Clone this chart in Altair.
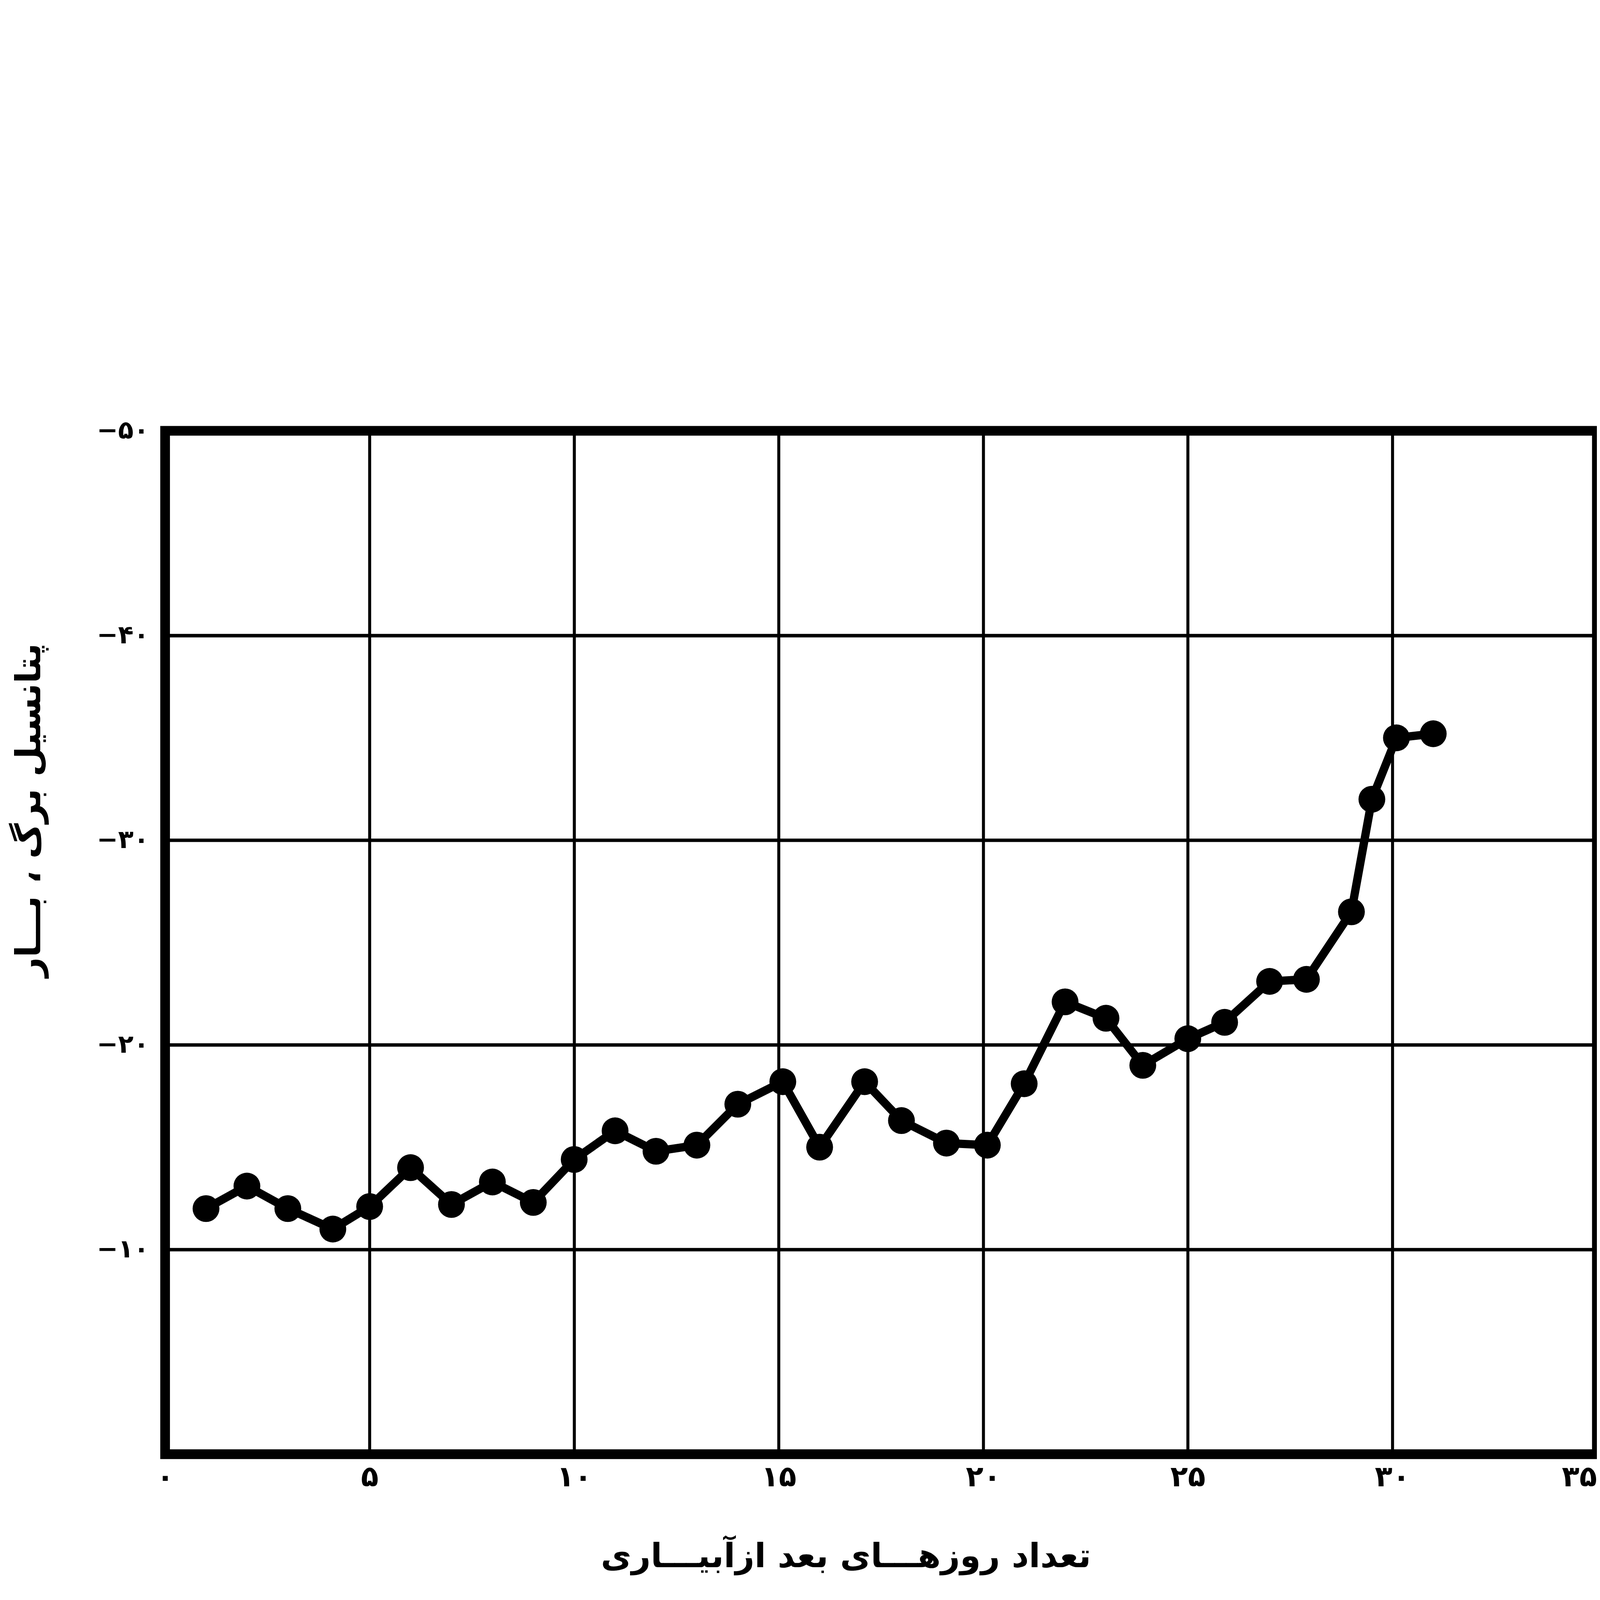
import altair as alt
import pandas as pd

# days after irrigation
days = [1, 2, 3, 4.1, 5, 6, 7, 8, 9, 10, 11, 12, 13, 14, 15.1, 16, 17.1, 18,
        19.1, 20.1, 21, 22, 23, 23.9, 25, 25.9, 27, 27.9, 29, 29.5, 30.1, 31]
# leaf water potential, bar
potential = [-12.0, -13.1, -12.0, -11.0, -12.1, -14.0, -12.2, -13.3, -12.3,
             -14.4, -15.8, -14.8, -15.1, -17.1, -18.2, -15.0, -18.2, -16.3,
             -15.2, -15.1, -18.1, -22.1, -21.3, -19.0, -20.3, -21.1, -23.1,
             -23.2, -26.5, -32.0, -35.0, -35.2]

x_ticks = [0, 5, 10, 15, 20, 25, 30, 35]
x_labels = ["۰", "۵", "۱۰", "۱۵", "۲۰", "۲۵", "۳۰", "۳۵"]
y_ticks = [0, -10, -20, -30, -40, -50]
y_labels = ["", "−۱۰", "−۲۰", "−۳۰", "−۴۰", "−۵۰"]

x_title = "تعداد روزهـــای بعد ازآبیـــاری"
y_title = "پتانسیل برگ ، بـــار"


def label_expr(values, labels):
    expr = "''"
    for v, l in zip(reversed(values), reversed(labels)):
        expr = f"datum.value == {v} ? '{l}' : ({expr})"
    return expr


df = pd.DataFrame({"day": days, "psi": potential})

FONT = "DejaVu Sans"

x_enc = alt.X(
    "day:Q",
    scale=alt.Scale(domain=[0, 35], nice=False, zero=False),
    axis=alt.Axis(
        values=x_ticks,
        labelExpr=label_expr(x_ticks, x_labels),
        title=x_title,
        grid=True,
        gridColor="black",
        gridWidth=13,
        gridOpacity=1,
        ticks=False,
        tickSize=0,
        domain=False,
        labelFont=FONT,
        labelFontSize=125,
        labelFontWeight="bold",
        labelColor="black",
        labelPadding=40,
        labelBaseline="top",
        labelLimit=0,
        labelFlush=False,
        labelAlign={"condition": {"test": "datum.value == 35", "value": "right"}, "value": "center"},
        titleFont=FONT,
        titleFontSize=145,
        titleFontWeight="bold",
        titleColor="black",
        titleX=2950,
        titleY=490,
        titleAlign="center",
        titleBaseline="alphabetic",
        titleLimit=0,
    ),
)

y_enc = alt.Y(
    "psi:Q",
    scale=alt.Scale(domain=[-50, 0], reverse=True, nice=False, zero=False),
    axis=alt.Axis(
        values=y_ticks,
        labelExpr=label_expr(y_ticks, y_labels),
        title=y_title,
        grid=True,
        gridColor="black",
        gridWidth=15,
        gridOpacity=1,
        ticks=False,
        tickSize=0,
        domain=False,
        labelFont=FONT,
        labelFontSize=110,
        labelFontWeight="bold",
        labelColor="black",
        labelPadding=70,
        labelLimit=0,
        labelFlush=False,
        titleFont=FONT,
        titleFontSize=150,
        titleFontWeight="bold",
        titleColor="black",
        titleX=-542,
        titleY=1644,
        titleAlign="center",
        titleBaseline="alphabetic",
        titleLimit=0,
    ),
)

line = alt.Chart(df).mark_line(color="black", strokeWidth=36).encode(x=x_enc, y=y_enc)
pts = alt.Chart(df).mark_circle(color="black", opacity=1, size=13500).encode(x="day:Q", y="psi:Q")

chart = (
    alt.layer(line, pts)
    .properties(
        width=6205,
        height=4435,
        padding={"left": 40, "top": 47, "right": 0, "bottom": 0},
    )
    .configure_view(stroke="black", strokeWidth=42)
)

chart.save("out.html", embed_options={"renderer": "svg", "actions": False})
